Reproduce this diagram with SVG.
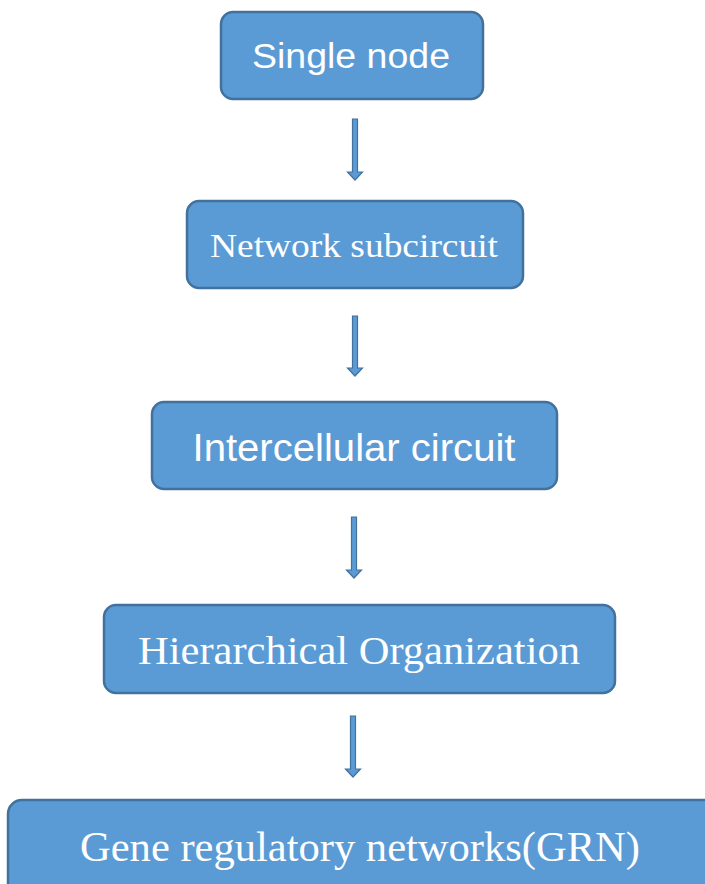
<svg xmlns="http://www.w3.org/2000/svg" width="705" height="884" viewBox="0 0 705 884">
<style>
.box{fill:#5B9BD5;stroke:#41719C;stroke-width:2.5}
.sans{font-family:"Liberation Sans","Noto Sans",sans-serif;fill:#fff;text-anchor:middle}
.serif{font-family:"Liberation Serif","DejaVu Serif",serif;fill:#fff;text-anchor:middle}
.arr{fill:#5B9BD5;stroke:#41719C;stroke-width:1.2}
</style>
<rect width="705" height="884" fill="#fff"/>
<g id="n1"><rect class="box" x="221" y="12" width="262" height="87" rx="12"/><text class="sans" x="351" y="68" font-size="35" textLength="198" lengthAdjust="spacingAndGlyphs">Single node</text></g>
<g id="n2"><rect class="box" x="187" y="201" width="336" height="87" rx="12"/><text class="serif" x="354" y="257" font-size="34" textLength="288" lengthAdjust="spacingAndGlyphs">Network subcircuit</text></g>
<g id="n3"><rect class="box" x="152" y="402" width="405" height="87" rx="12"/><text class="sans" x="354" y="461" font-size="38" textLength="323" lengthAdjust="spacingAndGlyphs">Intercellular circuit</text></g>
<g id="n4"><rect class="box" x="104" y="605" width="511" height="88" rx="12"/><text class="serif" x="359" y="664" font-size="39" textLength="442" lengthAdjust="spacingAndGlyphs">Hierarchical Organization</text></g>
<g id="n5"><rect class="box" x="8" y="800" width="712" height="100" rx="14"/><text class="serif" x="360" y="861" font-size="43" textLength="560" lengthAdjust="spacingAndGlyphs">Gene regulatory networks(GRN)</text></g>
<g id="connectors">
<path class="arr" d="M352.5 119 h5 v53 h5 l-7.5 8 l-7.5 -8 h5 z"/>
<path class="arr" d="M352.5 316 h5 v52 h5 l-7.5 8 l-7.5 -8 h5 z"/>
<path class="arr" d="M351.5 517 h5 v53 h5 l-7.5 8 l-7.5 -8 h5 z"/>
<path class="arr" d="M350.5 716 h5 v53 h5 l-7.5 8 l-7.5 -8 h5 z"/>
</g>
</svg>
